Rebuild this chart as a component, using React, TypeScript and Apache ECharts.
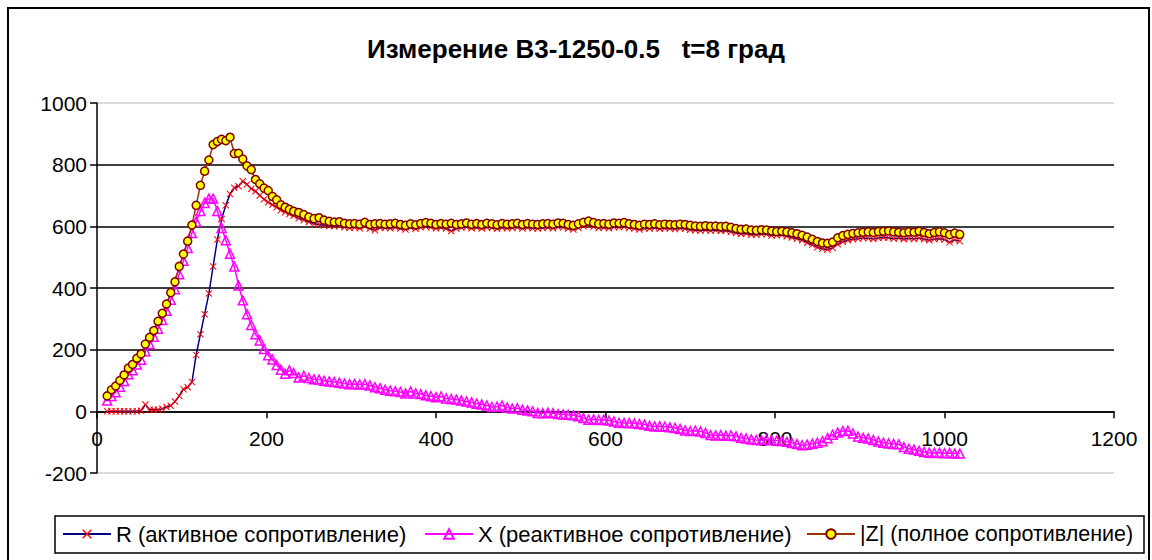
import React, { useEffect, useRef } from "react";
import * as echarts from "echarts";

const titleText = "Измерение В3-1250-0.5   t=8 град";
const seriesNames = [
  "R (активное сопротивление)",
  "X (реактивное сопротивление)",
  "|Z| (полное сопротивление)",
];

const xs = [
  12, 17, 22, 27, 32, 37, 42, 47, 52, 57, 62, 67, 72, 77, 82, 87, 92, 97, 102, 107,
  112, 117, 122, 127, 132, 137, 142, 147, 152, 157, 162, 167, 172, 177, 182, 187, 192, 197, 202, 207,
  212, 217, 222, 227, 232,
  238, 244, 250, 256, 262, 268, 274, 280, 286, 292,
  298, 304, 310, 316, 322, 328, 334, 340, 346, 352,
  358, 364, 370, 376, 382, 388, 394, 400, 406, 412,
  418, 424, 430, 436, 442, 448, 454, 460, 466, 472,
  478, 484, 490, 496, 502, 508, 514, 520, 526, 532,
  538, 544, 550, 556, 562, 568, 574, 580, 586, 592,
  598, 604, 610, 616, 622, 628, 634, 640, 646, 652,
  658, 664, 670, 676, 682, 688, 694, 700, 706, 712,
  718, 724, 730, 736, 742, 748, 754, 760, 766, 772,
  778, 784, 790, 796, 802, 808, 814, 820, 826, 832,
  838, 844, 850, 856, 862, 868, 874, 880, 886, 892,
  898, 904, 910, 916, 922, 928, 934, 940, 946, 952,
  958, 964, 970, 976, 982, 988, 994, 1000, 1006, 1012,
  1018,
];

const rValues = [
  0, 0, 0, 0, 0, 0, 0, 0, 2, 22, 5, 5, 5, 8, 14, 18, 32, 50, 72, 78,
  95, 183, 250, 315, 382, 470, 557, 624, 668, 705, 725, 730, 746, 736, 722, 714, 700, 688, 678, 670,
  662, 652, 646, 640, 634,
  626, 620, 614, 608, 606, 603, 601, 600, 601, 597,
  595, 597, 594, 600, 593, 587, 596, 595, 594, 597,
  593, 590, 596, 592, 597, 599, 597, 594, 596, 593,
  585, 593, 596, 598, 594, 596, 593, 597, 595, 592,
  596, 594, 595, 597, 593, 596, 594, 593, 595, 596,
  594, 598, 597, 593, 590, 595, 600, 604, 599, 595,
  596, 594, 598, 597, 599, 595, 593, 590, 594, 593,
  595, 592, 594, 593, 591, 594, 592, 589, 587, 586,
  588, 586, 587, 585, 586, 582, 578, 575, 577, 573,
  573, 575, 574, 570, 571, 572, 568, 564, 560, 555,
  547, 540, 532, 527, 525, 530, 542, 550, 555, 558,
  560, 562, 561, 559, 562, 564, 563, 560, 562, 558,
  561, 559, 562, 558, 555, 559, 560, 557, 548, 556,
  552,
];

const xValues = [
  35, 50, 62, 80, 98, 120, 133, 152, 167, 195, 218, 242, 268, 296, 326, 362, 396, 445, 488, 530,
  578, 615, 650, 676, 690, 690, 650, 595, 555, 511, 470, 408, 360, 315, 280, 250, 230, 202, 182, 168,
  150, 135, 122, 133, 124,
  110, 115, 108, 104, 103, 99, 97, 95, 93, 90,
  88, 89, 87, 88, 84, 78, 75, 70, 67, 65,
  63, 58, 64, 58, 56, 52, 49, 46, 48, 42,
  40, 38, 35, 32, 29, 25, 22, 19, 14, 15,
  19, 12, 9, 10, 5, 3, 0, -5, -6, -4,
  -6, -9, -10, -11, -13, -16, -22, -27, -26, -28,
  -27, -30, -33, -37, -38, -38, -39, -41, -43, -47,
  -49, -48, -50, -52, -54, -57, -62, -64, -63, -65,
  -70, -77, -78, -77, -79, -78, -81, -86, -88, -91,
  -93, -94, -92, -94, -95, -96, -99, -103, -106, -110,
  -108, -105, -102, -97, -87, -76, -69, -64, -63, -72,
  -82, -86, -88, -93, -98, -102, -104, -106, -107, -116,
  -121, -124, -128, -132, -134, -135, -134, -136, -135, -137,
  -137,
];

const zValues = [
  50, 70, 82, 100, 118, 140, 152, 172, 186, 218, 240, 262, 292, 318, 348, 385, 420, 470, 510, 552,
  604, 668, 733, 779, 815, 865, 875, 882, 878, 889, 836, 837, 818, 796, 784, 752, 738, 724, 716, 697,
  686, 670, 662, 655, 649,
  645, 638, 630, 625, 628, 620, 616, 614, 615, 610,
  608, 609, 607, 613, 606, 608, 609, 607, 608, 610,
  606, 603, 608, 605, 609, 612, 610, 606, 609, 607,
  610, 606, 608, 611, 607, 609, 606, 610, 608, 605,
  609, 607, 608, 610, 606, 609, 607, 606, 608, 609,
  607, 611, 610, 606, 603, 608, 613, 617, 612, 608,
  609, 607, 611, 610, 612, 608, 606, 603, 607, 606,
  608, 605, 607, 606, 605, 607, 606, 603, 601, 600,
  602, 600, 601, 599, 600, 597, 593, 590, 591, 588,
  587, 589, 588, 585, 583, 584, 582, 579, 576, 571,
  565, 558, 551, 546, 545, 549, 563, 570, 574, 577,
  579, 581, 582, 580, 583, 584, 585, 582, 581, 579,
  582, 581, 584, 580, 576, 580, 582, 579, 573, 578,
  574,
];

const crossPath =
  "path://M1,0 L5,4 L9,0 L10,1 L6,5 L10,9 L9,10 L5,6 L1,10 L0,9 L4,5 L0,1 Z";

const FONT = "'Liberation Sans', Arial, sans-serif";

const GRID_TOP = 103;
const GRID_BOTTOM = 87;
const Y_MIN = -200;
const Y_MAX = 1000;

export default function App() {
  const ref = useRef<HTMLDivElement>(null);

  useEffect(() => {
    if (!ref.current) return;
    const chart = echarts.init(ref.current, null, { renderer: "svg" });
    const pair = (vals: number[]) => xs.map((x, i) => [x, vals[i]]);
    const plotH = 560 - GRID_TOP - GRID_BOTTOM;
    const zeroOffset = -((0 - Y_MIN) / (Y_MAX - Y_MIN)) * plotH;

    const legendBase = {
      top: 523,
      orient: "horizontal",
      itemWidth: 48,
      itemHeight: 12,
      padding: 0,
      textStyle: { fontSize: 22, color: "#000", fontFamily: FONT },
    };

    const option = {
      animation: false,
      backgroundColor: "#ffffff",
      textStyle: { fontFamily: FONT },
      title: {
        text: titleText,
        left: "center",
        top: 31,
        textStyle: { fontSize: 26, fontWeight: "bold", color: "#000", fontFamily: FONT },
      },
      grid: { left: 97, right: 38, top: GRID_TOP, bottom: GRID_BOTTOM },
      xAxis: {
        type: "value",
        min: 0,
        max: 1200,
        interval: 200,
        offset: zeroOffset,
        axisLine: { onZero: false, lineStyle: { color: "#000", width: 1.5 } },
        axisTick: { show: true, length: 7, lineStyle: { color: "#000", width: 1.5 } },
        axisLabel: {
          fontSize: 21,
          color: "#000",
          margin: 17,
          fontFamily: FONT,
          formatter: (v: number) => String(v),
        },
        splitLine: { show: false },
      },
      yAxis: {
        type: "value",
        min: Y_MIN,
        max: Y_MAX,
        interval: 200,
        axisLine: { show: true, onZero: false, lineStyle: { color: "#000", width: 1.5 } },
        axisTick: { show: true, length: 7, lineStyle: { color: "#000", width: 1.5 } },
        axisLabel: {
          fontSize: 21,
          color: "#000",
          margin: 10,
          fontFamily: FONT,
          formatter: (v: number) => String(v),
        },
        splitLine: {
          show: true,
          lineStyle: {
            color: ["#d0d0d0", "#000", "#000", "#000", "#000", "#000", "#d0d0d0"],
            width: 1.5,
          },
        },
      },
      legend: [
        { ...legendBase, left: 62, data: [seriesNames[0]] },
        { ...legendBase, left: 424, data: [seriesNames[1]] },
        {
          ...legendBase,
          left: 806,
          data: [seriesNames[2]],
          textStyle: { fontSize: 21.5, color: "#000", fontFamily: FONT },
        },
      ],
      graphic: [
        {
          type: "rect",
          silent: true,
          z: -10,
          shape: { x: 8, y: 8, width: 1141, height: 600 },
          style: { fill: "none", stroke: "#000", lineWidth: 2 },
        },
        {
          type: "rect",
          silent: true,
          z: -10,
          shape: { x: 55, y: 516, width: 1089, height: 37 },
          style: { fill: "none", stroke: "#000", lineWidth: 1.5 },
        },
      ],
      series: [
        {
          name: seriesNames[0],
          type: "line",
          data: pair(rValues),
          symbol: crossPath,
          symbolSize: 7,
          showAllSymbol: true,
          lineStyle: { color: "#000080", width: 1.5 },
          itemStyle: { color: "#ff0000" },
          z: 2,
        },
        {
          name: seriesNames[1],
          type: "line",
          data: pair(xValues),
          symbol: "triangle",
          symbolSize: 9,
          showAllSymbol: true,
          lineStyle: { color: "#ff00ff", width: 1.5 },
          itemStyle: { color: "rgba(255,255,255,0)", borderColor: "#ff00ff", borderWidth: 1.5 },
          z: 3,
        },
        {
          name: seriesNames[2],
          type: "line",
          data: pair(zValues),
          symbol: "circle",
          symbolSize: 8,
          showAllSymbol: true,
          lineStyle: { color: "#993300", width: 1.5 },
          itemStyle: { color: "#ffff00", borderColor: "#800000", borderWidth: 1.5 },
          z: 4,
        },
      ],
    };

    chart.setOption(option as any);
    return () => chart.dispose();
  }, []);

  return (
    <div
      ref={ref}
      style={{ position: "fixed", left: 0, top: 0, width: 1152, height: 560, background: "#fff" }}
    />
  );
}
